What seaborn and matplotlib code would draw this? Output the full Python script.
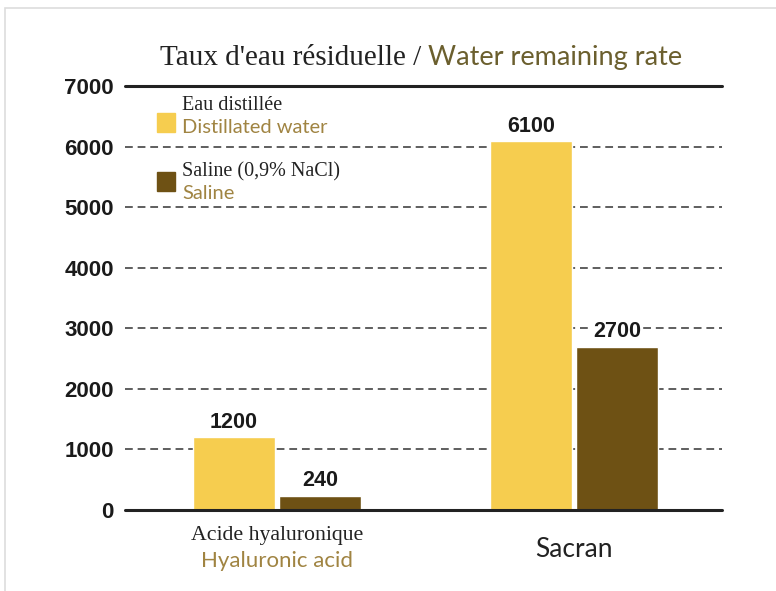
import pandas as pd
import matplotlib.pyplot as plt
import seaborn as sns
from matplotlib.patches import Rectangle

# donnees
produits = ["Acide hyaluronique", "Sacran"]
produits_en = ["Hyaluronic acid", ""]
solutions = ["Eau distillée", "Saline (0,9% NaCl)"]
solutions_en = ["Distillated water", "Saline"]
eau_distillee = [1200, 6100]
saline = [240, 2700]

df = pd.DataFrame({
    "Produit": produits * 2,
    "Solution": [solutions[0]] * 2 + [solutions[1]] * 2,
    "Valeur": eau_distillee + saline,
})

jaune = "#F6CD4F"
brun = "#6E5114"
olive = "#6B5F2E"
dore = "#A08442"

sns.set_style("white")
fig = plt.figure(figsize=(7.76, 5.91), dpi=100)
ax = fig.add_axes([0.161, 0.137, 0.769, 0.717])

sns.barplot(data=df, x="Produit", y="Valeur", hue="Solution", hue_order=solutions,
            palette=[jaune, brun], width=0.58, gap=0.05, ax=ax, legend=False,
            saturation=1)

# etiquettes de valeur
for cont in ax.containers:
    ax.bar_label(cont, labels=[f"{v:.0f}" for v in cont.datavalues], padding=3,
                 fontsize=15.5, fontweight="bold", family="Liberation Sans", color="#1a1a1a",
                 bbox=dict(facecolor="white", edgecolor="none", pad=0.5))

ax.set_xlim(-0.512, 1.498)
ax.set_ylim(0, 7000)
ax.set_yticks(range(0, 7001, 1000))
ax.set_yticklabels([str(v) for v in range(0, 7001, 1000)], fontsize=16,
                   fontweight="bold", family="Liberation Sans", color="#1a1a1a")
ax.tick_params(axis="y", length=0, pad=8)
ax.tick_params(axis="x", length=0)
ax.set_xticks([0, 1])
ax.set_xticklabels(["", ""])
ax.set_xlabel("")
ax.set_ylabel("")
for s in ["left", "right", "top", "bottom"]:
    ax.spines[s].set_visible(False)
ax.set_axisbelow(True)
for v in range(1000, 7000, 1000):
    ax.axhline(v, color="#5e5e5e", linestyle=(0, (4, 2.5)), linewidth=1.4, zorder=0)
ax.axhline(7000, color="#222222", linewidth=2.2, zorder=0, clip_on=False)
ax.axhline(0, color="#222222", linewidth=2.2, zorder=3, clip_on=False)

# etiquettes de l'axe x
ax.text(0, -0.059, produits[0], transform=ax.get_xaxis_transform(), ha="center", va="center",
        fontsize=15.7, family="Liberation Serif", color="#222222")
ax.text(0, -0.12, produits_en[0], transform=ax.get_xaxis_transform(), ha="center", va="center",
        fontsize=16, family="Lato", color=dore)
ax.text(1, -0.092, produits[1], transform=ax.get_xaxis_transform(), ha="center", va="center",
        fontsize=19, family="Lato", color="#222222")

# legende
lignes = [(0.955, 0.903, 0.915), (0.797, 0.748, 0.775)]
for (col, fr, en), (yf, ye, yc) in zip(zip([jaune, brun], solutions, solutions_en), lignes):
    ax.add_patch(Rectangle((0.054, yc - 0.022), 0.03, 0.044, transform=ax.transAxes,
                           color=col, clip_on=False))
    ax.text(0.096, yf, fr, transform=ax.transAxes, va="center", ha="left",
            fontsize=14.5, family="Liberation Serif", color="#222222")
    ax.text(0.096, ye, en, transform=ax.transAxes, va="center", ha="left",
            fontsize=14.5, family="Lato", color=dore)

# titre en deux couleurs
t1 = fig.text(0.206, 0.902, "Taux d'eau résiduelle / ", fontsize=21, family="Liberation Serif",
              color="#222222", va="center", ha="left")
fig.canvas.draw()
bb = t1.get_window_extent()
x2 = bb.x1 / fig.bbox.width
fig.text(x2, 0.902, "Water remaining rate", fontsize=19.5, family="Lato",
         color=olive, va="center", ha="left")

# cadre clair
fig.patches.append(Rectangle((0.007, -0.1), 1.2, 1.087, transform=fig.transFigure,
                             fill=False, edgecolor="#dddddd", linewidth=1.2))

fig.savefig("out.png", dpi=100)
